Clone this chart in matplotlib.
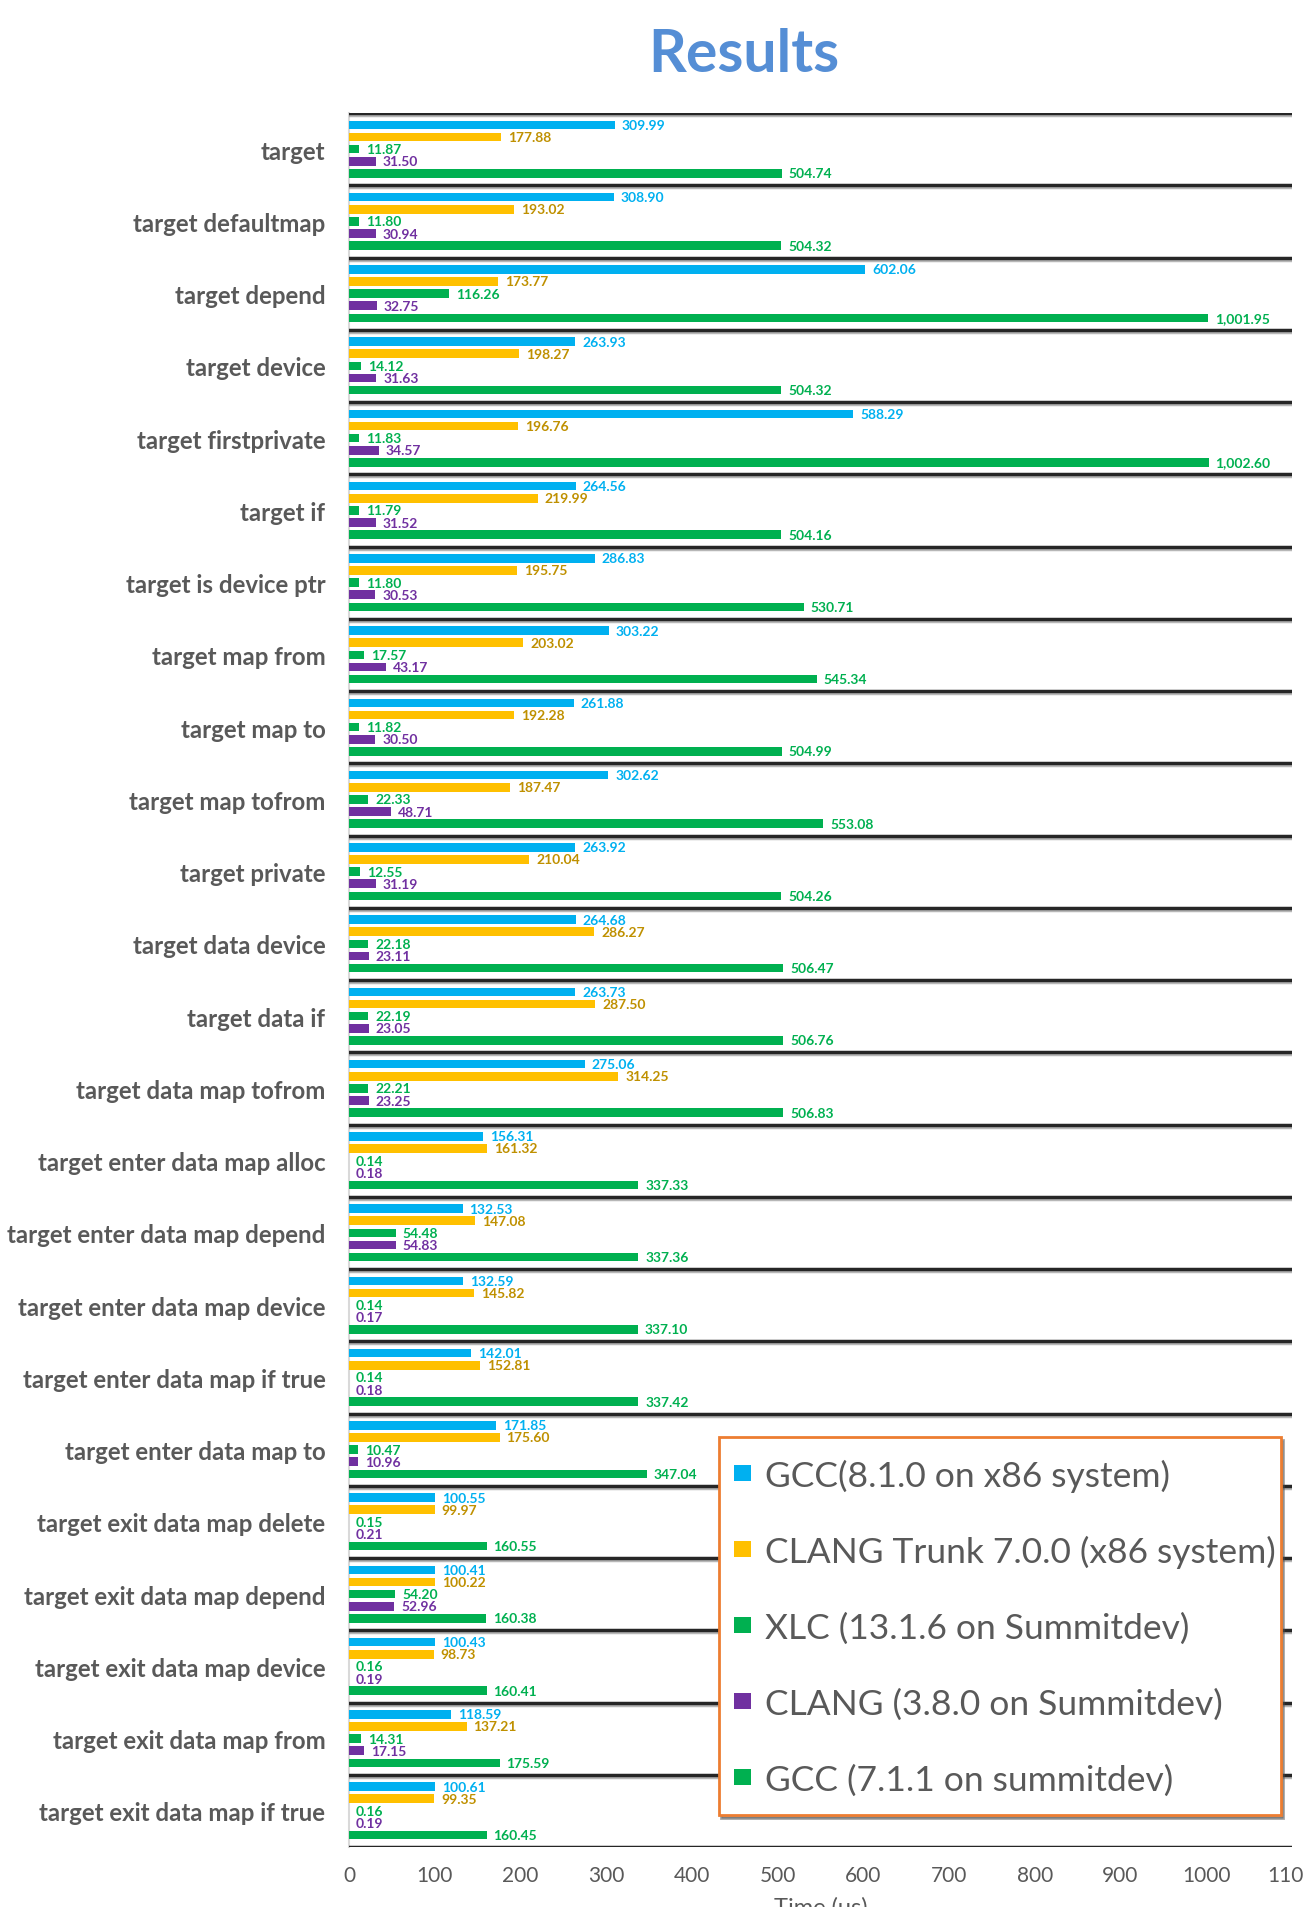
import matplotlib
matplotlib.use("Agg")
import matplotlib.pyplot as plt
import matplotlib.patheffects as pe
from matplotlib.patches import Patch, Rectangle
from matplotlib.legend_handler import HandlerPatch
import numpy as np

plt.rcParams['font.family'] = ['Lato', 'DejaVu Sans']

categories = [
    "target", "target defaultmap", "target depend", "target device",
    "target firstprivate", "target if", "target is device ptr", "target map from",
    "target map to", "target map tofrom", "target private", "target data device",
    "target data if", "target data map tofrom", "target enter data map alloc",
    "target enter data map depend", "target enter data map device",
    "target enter data map if true", "target enter data map to",
    "target exit data map delete", "target exit data map depend",
    "target exit data map device", "target exit data map from",
    "target exit data map if true",
]

series_names = [
    "GCC(8.1.0 on x86 system)",
    "CLANG Trunk 7.0.0 (x86 system)",
    "XLC (13.1.6 on Summitdev)",
    "CLANG (3.8.0 on Summitdev)",
    "GCC (7.1.1 on summitdev)",
]

gcc8_x86 = [309.99, 308.90, 602.06, 263.93, 588.29, 264.56, 286.83, 303.22,
            261.88, 302.62, 263.92, 264.68, 263.73, 275.06, 156.31, 132.53,
            132.59, 142.01, 171.85, 100.55, 100.41, 100.43, 118.59, 100.61]
clang7_x86 = [177.88, 193.02, 173.77, 198.27, 196.76, 219.99, 195.75, 203.02,
              192.28, 187.47, 210.04, 286.27, 287.50, 314.25, 161.32, 147.08,
              145.82, 152.81, 175.60, 99.97, 100.22, 98.73, 137.21, 99.35]
xlc_summit = [11.87, 11.80, 116.26, 14.12, 11.83, 11.79, 11.80, 17.57,
              11.82, 22.33, 12.55, 22.18, 22.19, 22.21, 0.14, 54.48,
              0.14, 0.14, 10.47, 0.15, 54.20, 0.16, 14.31, 0.16]
clang38_summit = [31.50, 30.94, 32.75, 31.63, 34.57, 31.52, 30.53, 43.17,
                  30.50, 48.71, 31.19, 23.11, 23.05, 23.25, 0.18, 54.83,
                  0.17, 0.18, 10.96, 0.21, 52.96, 0.19, 17.15, 0.19]
gcc7_summit = [504.74, 504.32, 1001.95, 504.32, 1002.60, 504.16, 530.71, 545.34,
               504.99, 553.08, 504.26, 506.47, 506.76, 506.83, 337.33, 337.36,
               337.10, 337.42, 347.04, 160.55, 160.38, 160.41, 175.59, 160.45]

x_ticks = [0, 100, 200, 300, 400, 500, 600, 700, 800, 900, 1000, 1100]

all_series = [gcc8_x86, clang7_x86, xlc_summit, clang38_summit, gcc7_summit]
bar_colors = ['#00B0F0', '#FFC000', '#00B050', '#7030A0', '#00B050']
label_colors = ['#00B0F0', '#BF9000', '#00B050', '#7030A0', '#00B050']

W, H = 1304, 1908
fig = plt.figure(figsize=(W / 100, H / 100), dpi=100)
ax_left, ax_right = 349 / W, 1292 / W
ax_top, ax_bot = 1 - 114 / H, 1 - 1848 / H
ax = fig.add_axes([ax_left, ax_bot, ax_right - ax_left, ax_top - ax_bot])

y = np.arange(len(categories))
slot = 0.168
bh = 0.12
for k, (vals, bc, lc) in enumerate(zip(all_series, bar_colors, label_colors)):
    pos = y + (k - 2) * slot
    ax.barh(pos, vals, height=bh, color=bc, edgecolor='none', zorder=3)
    for p, v in zip(pos, vals):
        ax.annotate(f"{v:,.2f}", xy=(v, p), xytext=(5, 0), textcoords='offset points',
                    va='center', ha='left', fontsize=10, fontweight='bold', color=lc,
                    zorder=4)

for b in np.arange(-0.5, len(categories), 1.0):
    ax.axhline(b, color='#262626', lw=2.5, zorder=5,
               path_effects=[pe.SimpleLineShadow(offset=(0, -1.5), shadow_color='#888888', alpha=0.6),
                             pe.Normal()])

ax.set_ylim(len(categories) - 0.5, -0.5)
ax.set_xlim(0, 1100)
ax.set_yticks(y)
ax.set_yticklabels(categories, fontsize=17.3, fontweight='bold', color='#595959')
ax.set_xticks(x_ticks)
ax.set_xticklabels([str(t) for t in x_ticks], fontsize=15, color='#595959')
ax.tick_params(axis='y', length=0, pad=17)
ax.tick_params(axis='x', length=0, pad=13)
for s in ['top', 'right', 'bottom']:
    ax.spines[s].set_visible(False)
ax.spines['left'].set_color('#D9D9D9')
ax.spines['left'].set_linewidth(1.5)
ax.set_xlabel("Time (us)", fontsize=17, color='#595959', labelpad=8)


def square_patch(legend, orig_handle, xdescent, ydescent, width, height, fontsize):
    s = 12.0
    c = 0.36 * fontsize
    return Rectangle((-xdescent + (width - s) / 2, c - s / 2), s, s)


handles = [Patch(facecolor=c, edgecolor='none') for c in bar_colors]
leg = ax.legend(handles, series_names, loc='lower left',
                bbox_to_anchor=(0.392, 0.0185, 0.596, 0.22), mode='expand',
                borderaxespad=0, fontsize=25.5, frameon=True, fancybox=False,
                shadow=True, handlelength=0.55, handleheight=1.6,
                handletextpad=0.35, labelspacing=0.86, borderpad=0.4,
                labelcolor='#595959',
                handler_map={Patch: HandlerPatch(patch_func=square_patch)})
leg.get_frame().set_edgecolor('#ED7D31')
leg.get_frame().set_linewidth(2)
leg.set_zorder(10)

fig.text(744 / W, 1 - 55 / H, "Results", ha='center', va='center', fontsize=42.5,
         fontweight='bold', color='#558ED5')

fig.savefig("out.png", dpi=100)
